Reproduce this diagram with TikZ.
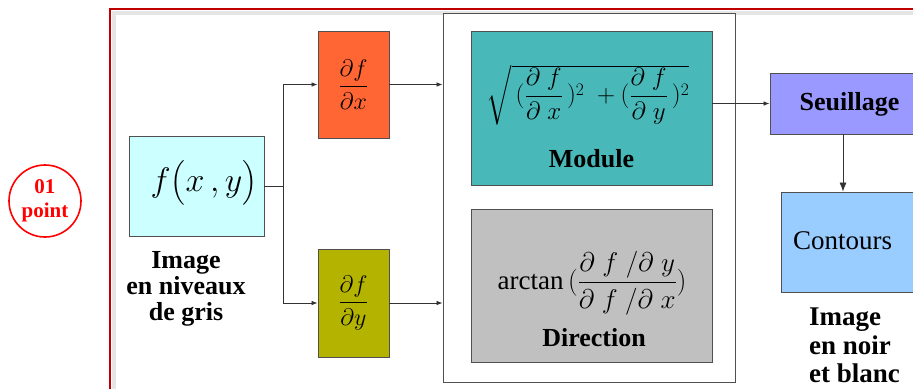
\RequirePackage{fix-cm}
\documentclass[tikz,border=0pt]{standalone}
\usepackage{amsmath}
\usepackage{fontspec}
\setmainfont{Liberation Serif}
\usetikzlibrary{arrows.meta,calc}

\definecolor{frameRed}{HTML}{C00000}
\definecolor{boxLine}{HTML}{505050}
\definecolor{cImg}{HTML}{CCFFFF}
\definecolor{cDx}{HTML}{FF6633}
\definecolor{cDy}{HTML}{B4B400}
\definecolor{cMod}{HTML}{48B8B8}
\definecolor{cDir}{HTML}{C0C0C0}
\definecolor{cSeuil}{HTML}{9999FF}
\definecolor{cCont}{HTML}{99CCFF}

% italic letters in formulas
\newcommand{\vf}{f}
\newcommand{\vx}{x}
\newcommand{\vy}{y}

\tikzset{
  blk/.style={draw=boxLine, line width=0.9pt, inner sep=0pt, align=center},
  lbl/.style={font=\bfseries\fontsize{26}{26}\selectfont, align=center, inner sep=0pt},
  title/.style={font=\bfseries\fontsize{26}{28}\selectfont, inner sep=0pt},
  conn/.style={draw=black!80, line width=0.7pt, -{Latex[length=6pt,width=4.5pt]}},
  wire/.style={draw=black!80, line width=0.7pt},
}

\begin{document}
\begin{tikzpicture}[x=1pt, y=-1pt]
\useasboundingbox (0,0) rectangle (913,389);
\clip (0,0) rectangle (913,389);
\fill[white] (0,0) rectangle (913,389);

% score badge
\node[draw=red, line width=1.6pt, circle, minimum size=72pt, inner sep=0pt,
      text=red, font=\bfseries\fontsize{21}{24}\selectfont, align=center]
      (badge) at (45,201) {01\\point};

% slide frame with its soft inner shadow
\fill[black!10] (112,11) rectangle (913,15);
\fill[black!10] (112,11) rectangle (116,389);
\draw[frameRed, line width=2pt] (110,389) -- (110,9) -- (913,9);

% input image
\node[blk, fill=cImg, minimum width=135pt, minimum height=100pt] (img) at (196.5,186) {};
\node[font=\fontsize{34}{38}\selectfont, inner sep=0pt] (imgf) at (204,183)
      {$\vf\bigl(\vx\,,\vy\bigr)$};
\node[lbl] (imglbl) at (186,289) {Image\\en niveaux\\de gris};

% partial derivatives
\node[blk, fill=cDx, minimum width=71pt, minimum height=107pt,
      font=\fontsize{24}{28}\selectfont] (dx) at (353.5,84.5)
      {$\dfrac{\partial \vf}{\partial \vx}$};
\node[blk, fill=cDy, minimum width=71pt, minimum height=108pt,
      font=\fontsize{24}{28}\selectfont] (dy) at (353.5,303)
      {$\dfrac{\partial \vf}{\partial \vy}$};

% gradient block
\node[draw=boxLine, line width=0.9pt, fill=white, minimum width=292pt,
      minimum height=369pt, inner sep=0pt] (grad) at (589,197.5) {};
\node[blk, fill=cMod, minimum width=241pt, minimum height=154pt] (mod) at (591.5,108) {};
\node[font=\fontsize{25}{28}\selectfont, inner sep=0pt] (modf) at (588,95)
      {$\sqrt{\,(\dfrac{\partial\;\vf}{\partial\;\vx}\,)^{2}\;+(\dfrac{\partial\;\vf}{\partial\;\vy}\,)^{2}}$};
\node[title] (modl) at (591.5,159) {Module};

\node[blk, fill=cDir, minimum width=241pt, minimum height=153pt] (dir) at (591.5,285.5) {};
\node[font=\fontsize{25}{28}\selectfont, inner sep=0pt] (dirf) at (592,283)
      {\fontsize{27}{30}\selectfont arctan\,$(\dfrac{\partial\;\vf\;/\partial\;\vy}{\partial\;\vf\;/\partial\;\vx})$};
\node[title] (dirl) at (594,338) {Direction};

% thresholding and edges
\node[blk, fill=cSeuil, minimum width=146pt, minimum height=61pt] (seuil) at (843,103.5) {};
\node[title] (seuill) at (849.5,104) {Seuillage};
\node[blk, fill=cCont, minimum width=150pt, minimum height=100pt] (cont) at (856,242) {};
\node[font=\fontsize{27}{30}\selectfont, inner sep=0pt, anchor=west] (contl) at (793,241) {Contours};
\node[align=left, anchor=north west, inner sep=0pt, font=\bfseries\fontsize{27}{28.5}\selectfont]
      (outlbl) at (809,308) {Image\\en noir\\et blanc};

% connectors
\coordinate (split) at (283,186);
\draw[wire] (img.east) -- (split);
\draw[conn] (split) |- (dx.west);
\draw[conn] (split) |- (dy.west);
\draw[conn] (dx.east) -- (dx.east -| grad.west);
\draw[conn] (dy.east) -- (dy.east -| grad.west);
\draw[conn] (seuil.west -| mod.east) -- (seuil.west);
\draw[wire, -{Latex[length=9pt,width=7pt]}] (seuil.south) -- (seuil.south |- cont.north);
\end{tikzpicture}
\end{document}
